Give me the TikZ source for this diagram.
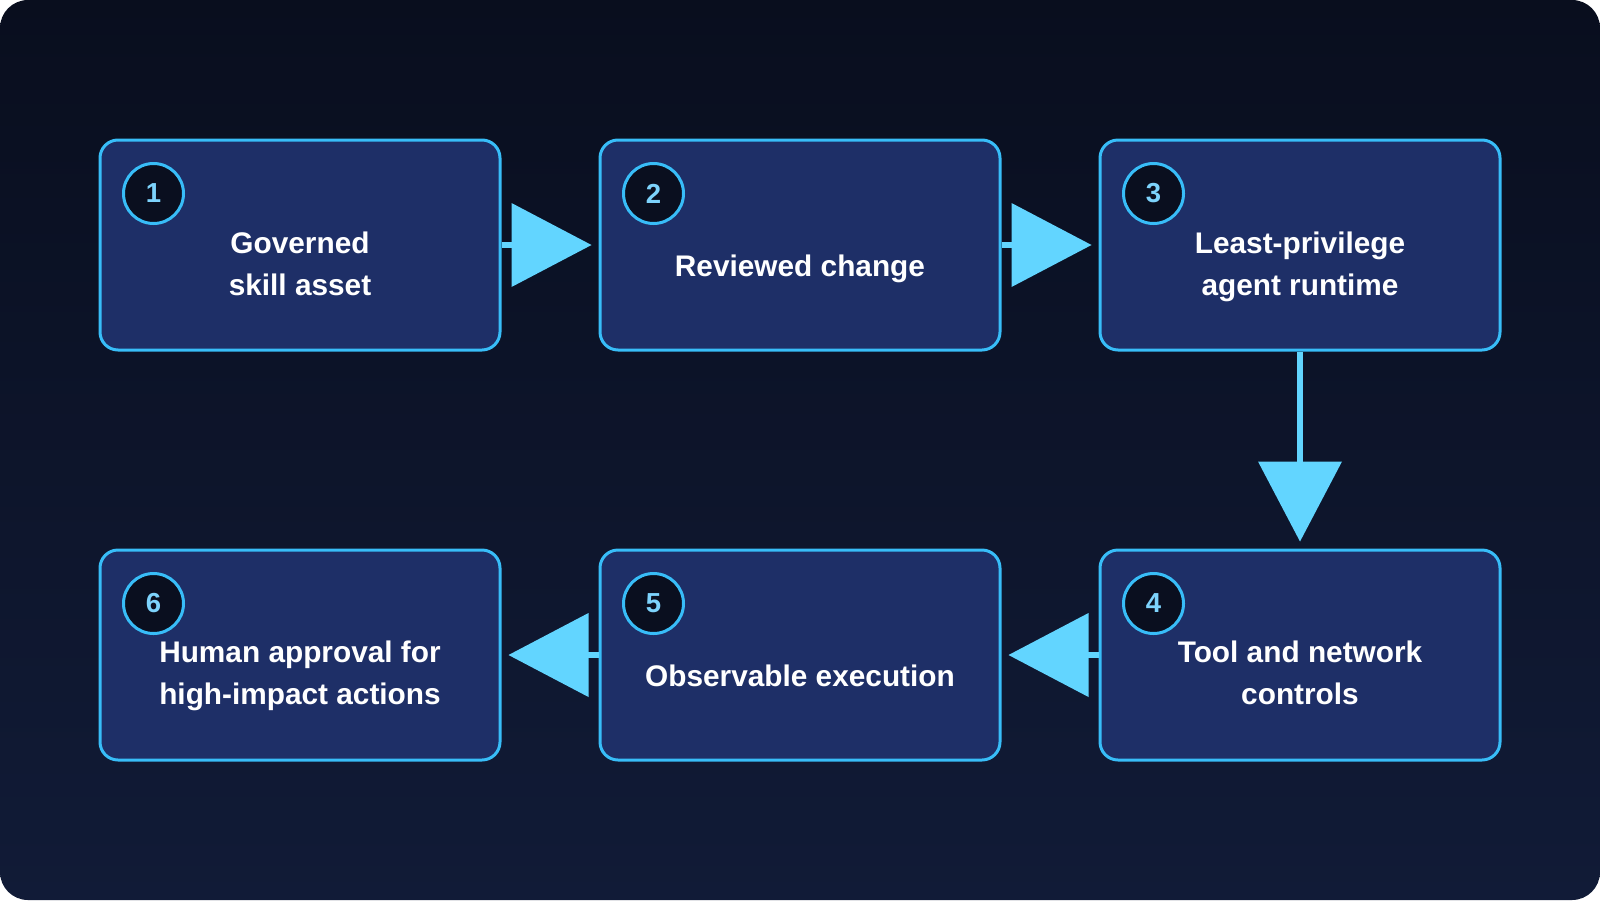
\documentclass[tikz,border=0pt]{standalone}
\usepackage{fontspec}
\setmainfont{Liberation Sans}
\usetikzlibrary{calc}
\definecolor{bgA}{HTML}{090E1E}
\definecolor{bgB}{HTML}{111B37}
\definecolor{boxfill}{HTML}{1E2F67}
\definecolor{boxline}{HTML}{38BDF8}
\definecolor{arrowc}{HTML}{62D5FF}
\definecolor{circfill}{HTML}{0A0F1F}
\definecolor{numc}{HTML}{7DD3FC}
\tikzset{
  stepbox/.style={draw=boxline, fill=boxfill, line width=3pt, rounded corners=18pt,
    minimum width=400pt, minimum height=210pt, inner sep=0pt},
  steptext/.style={text=white, anchor=base, inner sep=0pt, font=\fontsize{29.8}{42}\selectfont\bfseries},
  numcirc/.style={circle, draw=boxline, fill=circfill, line width=3pt, minimum size=60pt,
    inner sep=0pt, text=numc, font=\fontsize{27.5}{27.5}\selectfont\bfseries},
  shaft/.style={draw=arrowc, line width=6pt},
  tipfill/.style={fill=arrowc}
}
\begin{document}
\begin{tikzpicture}[x=1pt,y=-1pt]
\useasboundingbox (0,0) rectangle (1600,900);
\fill[white] (0,0) rectangle (1600,900);
\shade[rounded corners=28pt, top color=bgA, bottom color=bgB] (0,0) rectangle (1600,900);

% boxes
\node[stepbox] (b1) at (300,245) {};
\node[stepbox] (b2) at (800,245) {};
\node[stepbox] (b3) at (1300,245) {};
\node[stepbox] (b4) at (1300,655) {};
\node[stepbox] (b5) at (800,655) {};
\node[stepbox] (b6) at (300,655) {};

% texts (baselines)
\node[steptext] (t1a) at ($(b1)+(0,8.5)$) {Governed};
\node[steptext] (t1b) at ($(b1)+(0,50)$) {skill asset};
\node[steptext] (t2) at ($(b2)+(0,31)$) {Reviewed change};
\node[steptext] (t3a) at ($(b3)+(0,8.5)$) {Least-privilege};
\node[steptext] (t3b) at ($(b3)+(0,50)$) {agent runtime};
\node[steptext] (t4a) at ($(b4)+(0,7.5)$) {Tool and network};
\node[steptext] (t4b) at ($(b4)+(0,49)$) {controls};
\node[steptext] (t5) at ($(b5)+(0,31)$) {Observable execution};
\node[steptext] (t6a) at ($(b6)+(0,7.5)$) {Human approval for};
\node[steptext] (t6b) at ($(b6)+(0,49)$) {high-impact actions};

% number circles
\foreach \b/\n in {b1/1,b2/2,b3/3,b4/4,b5/5,b6/6}{
  \node[numcirc] (c\n) at ($(\b.north west)+(55,55)$) {\n};
}

% arrows right
\draw[shaft] (b1.east) -- ($(b1.east)+(11,0)$);
\fill[tipfill] ($(b1.east)+(10,-42)$) -- ($(b1.east)+(10,42)$) -- ($(b2.west)+(-7,0)$) -- cycle;
\draw[shaft] (b2.east) -- ($(b2.east)+(11,0)$);
\fill[tipfill] ($(b2.east)+(10,-42)$) -- ($(b2.east)+(10,42)$) -- ($(b3.west)+(-7,0)$) -- cycle;
% arrow down
\draw[shaft] (b3.south) -- ($(b3.south)+(0,111)$);
\fill[tipfill] ($(b3.south)+(-42,110)$) -- ($(b3.south)+(42,110)$) -- ($(b4.north)+(0,-7)$) -- cycle;
% arrows left
\draw[shaft] (b4.west) -- ($(b4.west)+(-11,0)$);
\fill[tipfill] ($(b4.west)+(-10,-42)$) -- ($(b4.west)+(-10,42)$) -- ($(b5.east)+(7,0)$) -- cycle;
\draw[shaft] (b5.west) -- ($(b5.west)+(-11,0)$);
\fill[tipfill] ($(b5.west)+(-10,-42)$) -- ($(b5.west)+(-10,42)$) -- ($(b6.east)+(7,0)$) -- cycle;
\end{tikzpicture}
\end{document}
